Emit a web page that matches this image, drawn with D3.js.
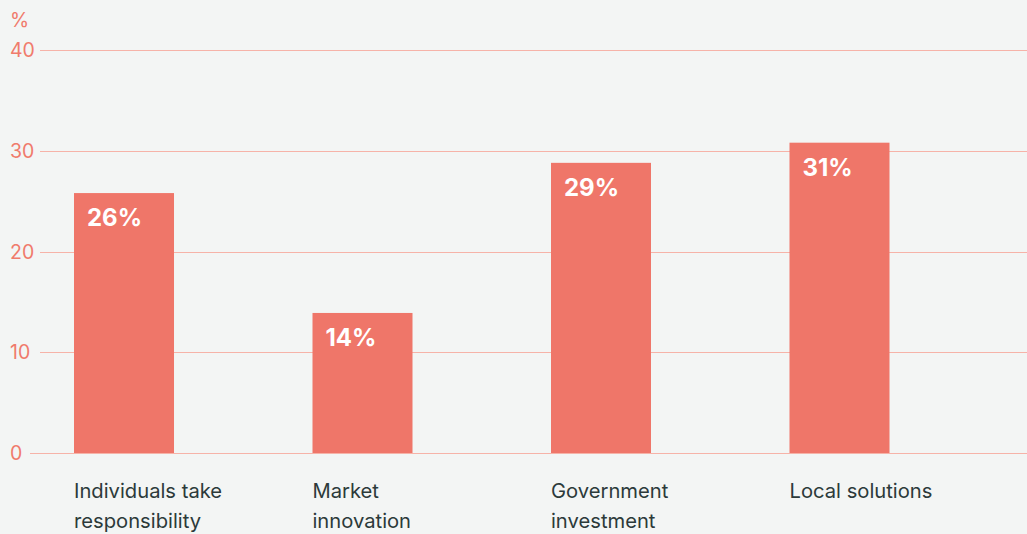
<!DOCTYPE html>
<html><head><meta charset="utf-8">
<script src="https://cdn.jsdelivr.net/npm/d3@7"></script>
<style>
html,body{margin:0;padding:0;background:#f3f5f4;}
svg{display:block;font-family:Inter, "Noto Sans", sans-serif;}
</style></head>
<body>
<svg id="chart" width="1027" height="534"></svg>
<script>
const categories = [["Individuals take","responsibility"],["Market","innovation"],["Government","investment"],["Local solutions"]];
const values = [25.8, 13.9, 28.8, 30.8];
const valueLabels = ["26%","14%","29%","31%"];
const yTicks = [0,10,20,30,40];
const yUnit = "%";

const svg = d3.select("#chart");
svg.append("rect").attr("width",1027).attr("height",534).attr("fill","#f3f5f4");

const y = d3.scaleLinear().domain([0,40]).range([453,50]);
const x = d3.scaleBand().domain(d3.range(categories.length)).range([74,889.5]).paddingInner(0.5807).paddingOuter(0);

const grid = svg.append("g");
yTicks.forEach(t=>{
  grid.append("line").attr("x1", t===0?30:40).attr("x2",1027)
    .attr("y1",Math.round(y(t))+0.5).attr("y2",Math.round(y(t))+0.5)
    .attr("stroke","#f6b3a8").attr("stroke-width",1);
  grid.append("text").attr("x",10).attr("y",y(t)).attr("dy","0.36em")
    .attr("fill","#f07b6c").attr("font-size",19.5).text(t);
});
svg.append("text").attr("x",10).attr("y",27).attr("fill","#f07b6c").attr("font-size",19.5).text(yUnit);

const bars = svg.append("g");
values.forEach((v,i)=>{
  bars.append("rect").attr("x",x(i)).attr("width",x.bandwidth())
    .attr("y",y(v)).attr("height",y(0)-y(v)).attr("fill","#ef7669");
  bars.append("text").attr("x",x(i)+13).attr("y",y(v)+33)
    .attr("fill","#ffffff").attr("font-weight",700).attr("font-size",24).text(valueLabels[i]);
  const t = svg.append("text").attr("fill","#2c3a3a").attr("font-size",20.2);
  categories[i].forEach((line,j)=>{
    t.append("tspan").attr("x",x(i)).attr("y",498+j*30).text(line);
  });
});
</script>
</body></html>
